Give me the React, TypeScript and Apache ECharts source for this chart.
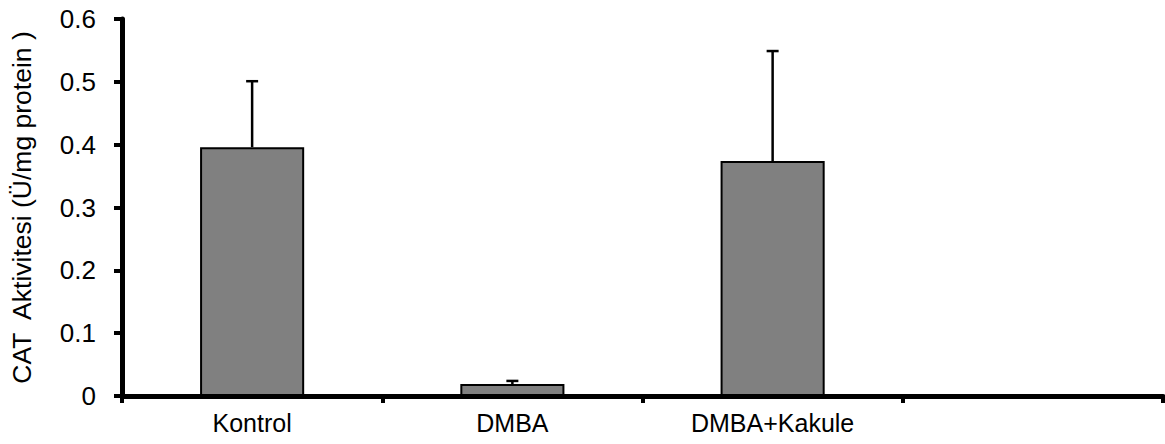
import React, { useEffect, useRef } from "react";
import * as echarts from "echarts";

const categories = ["Kontrol", "DMBA", "DMBA+Kakule", ""];
const means = [0.396, 0.019, 0.374, null];
const errors = [0.105, 0.005, 0.175, null];
const yTicks = { min: 0, max: 0.6, interval: 0.1 };
const yTitle = "CAT  Aktivitesi (Ü/mg protein )";

const FONT = "'Liberation Sans', Arial, sans-serif";

export default function App() {
  const ref = useRef<HTMLDivElement>(null);
  useEffect(() => {
    if (!ref.current) return;
    const chart = echarts.init(ref.current, null, { renderer: "svg" });
    const errData = means
      .map((m, i) => (m == null || errors[i] == null ? null : [i, m, (m as number) + (errors[i] as number)]))
      .filter((d) => d !== null);
    chart.setOption({
      animation: false,
      grid: { left: 122, right: 2, top: 19, bottom: 48 },
      xAxis: {
        type: "category",
        data: categories,
        boundaryGap: true,
        axisLine: { lineStyle: { color: "#000", width: 5 } },
        axisTick: { show: true, length: 7, lineStyle: { color: "#000", width: 4 } },
        axisLabel: { color: "#000", fontSize: 25, fontFamily: FONT, margin: 14, interval: 0 },
        splitLine: { show: false },
      },
      yAxis: {
        type: "value",
        min: yTicks.min,
        max: yTicks.max,
        interval: yTicks.interval,
        name: yTitle,
        nameLocation: "middle",
        nameRotate: 90,
        nameGap: 87,
        nameTextStyle: { color: "#000", fontSize: 26.5, fontFamily: FONT },
        axisLine: { show: true, lineStyle: { color: "#000", width: 5 } },
        axisTick: { show: true, length: 8, lineStyle: { color: "#000", width: 4 } },
        axisLabel: { color: "#000", fontSize: 26, fontFamily: FONT, margin: 26 },
        splitLine: { show: false },
      },
      series: [
        {
          type: "bar",
          data: means,
          barWidth: "40%",
          itemStyle: { color: "#808080", borderColor: "#000", borderWidth: 2 },
        },
        {
          type: "custom",
          data: errData,
          z: 5,
          renderItem: (params: any, api: any) => {
            const x = api.value(0);
            const lo = api.coord([x, api.value(1)]);
            const hi = api.coord([x, api.value(2)]);
            const half = 6;
            const style = { stroke: "#000", lineWidth: 2.5, fill: "none" };
            return {
              type: "group",
              children: [
                { type: "line", shape: { x1: lo[0], y1: lo[1], x2: hi[0], y2: hi[1] }, style },
                { type: "line", shape: { x1: hi[0] - half, y1: hi[1], x2: hi[0] + half, y2: hi[1] }, style },
              ],
            };
          },
        },
      ],
    });
    return () => chart.dispose();
  }, []);
  return (
    <div
      ref={ref}
      style={{ position: "absolute", left: 0, top: 0, width: 1165, height: 444, background: "#fff" }}
    />
  );
}
